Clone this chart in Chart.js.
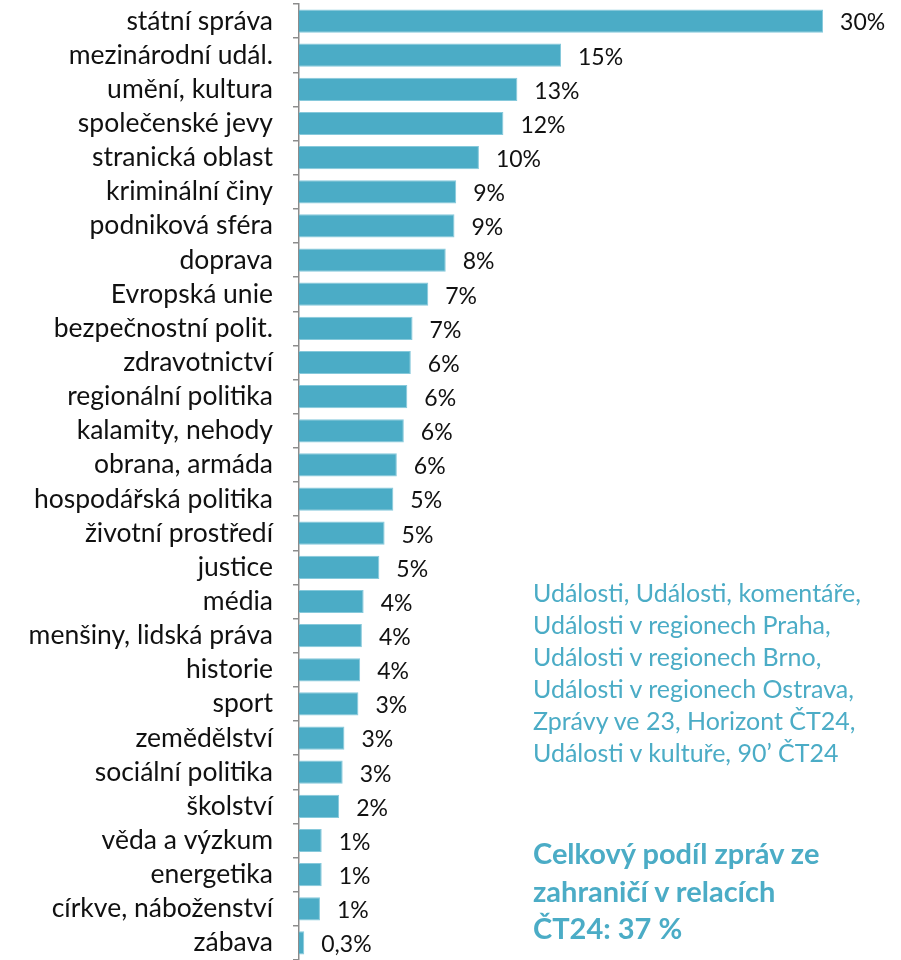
<!DOCTYPE html>
<html><head><meta charset="utf-8">
<script src="https://cdn.jsdelivr.net/npm/chart.js@4.4.1/dist/chart.umd.min.js"></script>
<style>
html,body{margin:0;padding:0;background:#fff;overflow:hidden;}
#wrap{position:relative;width:901px;height:960px;}
canvas{position:absolute;left:0;top:0;}
.note{position:absolute;left:533px;color:#4BACC6;font-family:Lato,"Noto Sans",sans-serif;white-space:nowrap;}
#n1{top:576px;font-size:25px;line-height:32px;}
#n2{top:834px;font-size:29px;line-height:37.5px;font-weight:bold;}
</style></head><body>
<div id="wrap">
<canvas id="c" width="901" height="960"></canvas>
<div class="note" id="n1">Události, Události, komentáře,<br>Události v regionech Praha,<br>Události v regionech Brno,<br>Události v regionech Ostrava,<br>Zprávy ve 23, Horizont ČT24,<br>Události v kultuře, 90’ ČT24</div>
<div class="note" id="n2">Celkový podíl zpráv ze<br>zahraničí v relacích<br>ČT24: 37 %</div>
</div>
<script>
const categories = ["státní správa","mezinárodní udál.","umění, kultura","společenské jevy","stranická oblast","kriminální činy","podniková sféra","doprava","Evropská unie","bezpečnostní polit.","zdravotnictví","regionální politika","kalamity, nehody","obrana, armáda","hospodářská politika","životní prostředí","justice","média","menšiny, lidská práva","historie","sport","zemědělství","sociální politika","školství","věda a výzkum","energetika","církve, náboženství","zábava"];
const values = [30.0,15.0,12.5,11.7,10.3,9.0,8.9,8.4,7.4,6.5,6.4,6.2,6.0,5.6,5.4,4.9,4.6,3.7,3.6,3.5,3.4,2.6,2.5,2.3,1.3,1.3,1.2,0.3];
const valueLabels = ["30%","15%","13%","12%","10%","9%","9%","8%","7%","7%","6%","6%","6%","6%","5%","5%","5%","4%","4%","4%","3%","3%","3%","2%","1%","1%","1%","0,3%"];

const FONT = 'Lato, "Noto Sans", sans-serif';
const labelPlugin = {
  id:'vlabels',
  afterDatasetsDraw(chart){
    const ctx = chart.ctx;
    const meta = chart.getDatasetMeta(0);
    ctx.save();
    ctx.font = '23px ' + FONT;
    ctx.fillStyle = '#111';
    ctx.textAlign = 'left';
    ctx.textBaseline = 'middle';
    meta.data.forEach((bar,i)=>{
      ctx.fillText(valueLabels[i], bar.x + 17, bar.y + 2);
    });
    ctx.restore();
  }
};

new Chart(document.getElementById('c'), {
  type:'bar',
  data:{labels:categories, datasets:[{data:values, backgroundColor:'#4BACC6', borderColor:'#86C9DB', borderWidth:1, barPercentage:0.68, categoryPercentage:1}]},
  options:{
    indexAxis:'y', responsive:false, animation:false, devicePixelRatio:1,
    layout:{padding:{top:4,bottom:0,left:0,right:43}},
    plugins:{legend:{display:false}, tooltip:{enabled:false}},
    scales:{
      x:{display:false, min:0, max:32},
      y:{
        afterFit(s){ s.width = 299; s.paddingTop = 0; s.paddingBottom = 0; },
        grid:{display:true, drawOnChartArea:false, offset:true, tickLength:6, color:'#8c8c8c', lineWidth:1.5},
        border:{display:true, color:'#8c8c8c', width:1.5},
        ticks:{padding:20, color:'#111', font:{family:FONT, size:26.5}, autoSkip:false}
      }
    }
  },
  plugins:[labelPlugin]
});
</script>
</body></html>
